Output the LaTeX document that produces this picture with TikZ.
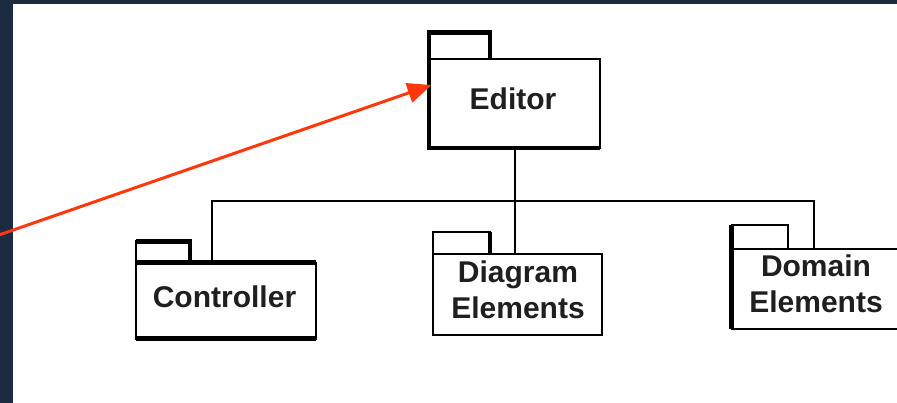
\documentclass[tikz,border=0pt]{standalone}
\usepackage{fontspec}
\newfontfamily\pkgfont{Liberation Sans}
\usetikzlibrary{arrows.meta}
\definecolor{navy}{RGB}{28,43,64}
\definecolor{arrowred}{RGB}{255,55,10}
\begin{document}
\begin{tikzpicture}[x=1pt,y=-1pt,
  pkg/.style={draw=black, line width=2.2pt, fill=white, inner sep=0pt, outer sep=0pt, rectangle},
  thk/.style={line width=4.8pt},
  conn/.style={draw=black, line width=2pt},
  lbl/.style={font=\pkgfont\bfseries\fontsize{30}{35.8}\selectfont, align=center, anchor=base, inner sep=0pt, text=black!88},
  pointer/.style={draw=arrowred, line width=3pt, -{Triangle[length=24pt,width=20pt]}}]
\clip (0,0) rectangle (897,403);
\fill[navy] (0,0) rectangle (897,403);
\fill[white] (13,4) rectangle (897,403);

% Editor package
\node[pkg, minimum width=61pt, minimum height=26.7pt] (etab) at (459.5,45.65) {};
\node[pkg, minimum width=171pt, minimum height=89pt] (editor) at (514.5,103.5) {};
\draw[thk] (etab.south west) -- (etab.north west) -- (etab.north east) -- (etab.south east);
\draw[thk] (editor.north west) -- (editor.south west) -- (editor.south east);
\node[lbl] (editorlbl) at (513,110) {Editor};

% Controller package
\node[pkg, minimum width=54pt, minimum height=21.4pt] (ctab) at (163,252) {};
\node[pkg, minimum width=180pt, minimum height=76pt] (ctrl) at (226,300.7) {};
\draw[thk] (ctab.north west) -- (ctab.north east) -- (ctab.south east);
\draw[thk] (ctrl.north west) -- (ctrl.north east);
\draw[thk] (ctrl.south west) -- (ctrl.south east);
\node[lbl] (ctrllbl) at (224.5,308) {Controller};

% Diagram Elements package
\node[pkg, minimum width=56.7pt, minimum height=21.7pt] (dtab) at (461.7,242.9) {};
\node[pkg, minimum width=168.7pt, minimum height=81pt] (diagram) at (517.7,294.2) {};
\draw[thk] (dtab.north east) -- (dtab.south east);
\node[lbl] (diagramlbl) at (518,318.3) {Diagram\\Elements};

% Domain Elements package
\node[pkg, minimum width=56.3pt, minimum height=23.7pt] (otab) at (759.85,237.15) {};
\node[pkg, minimum width=208.3pt, minimum height=80.3pt] (domain) at (835.85,289.15) {};
\draw[thk] (otab.north west) -- (domain.south west);
\node[lbl] (domainlbl) at (816,312.7) {Domain\\Elements};

% connectors
\coordinate (busL) at (212.3,201);
\coordinate (busR) at (813.5,201);
\draw[conn] (editor.south) -- (editor.south |- diagram.north);
\draw[conn] (ctrl.north -| busL) -- (busL) -- (busR) -- (domain.north -| busR);

% pointer arrow
\coordinate (src) at (-2,235.3);
\coordinate (tip) at (431.5,85);
\draw[pointer] (src) -- (tip);
\end{tikzpicture}
\end{document}
